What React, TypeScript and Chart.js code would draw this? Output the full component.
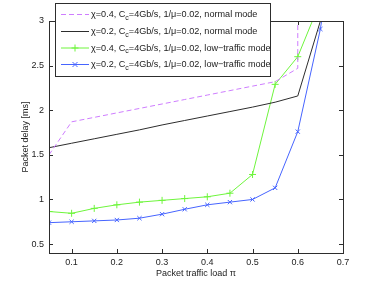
import React, { useEffect, useRef } from "react";
import { Chart, registerables } from "chart.js";

Chart.register(...registerables);

const loads = [0.05, 0.1, 0.15, 0.2, 0.25, 0.3, 0.35, 0.4, 0.45, 0.5, 0.55, 0.6, 0.65];
const pinkLoads = [0.05, 0.1, 0.15, 0.2, 0.25, 0.3, 0.35, 0.4, 0.45, 0.5, 0.55, 0.6, 0.6];
const pinkDelay = [1.5, 1.87, 1.92, 1.97, 2.02, 2.07, 2.12, 2.17, 2.22, 2.27, 2.32, 2.47, 40];
const blackDelay = [1.58, 1.63, 1.68, 1.73, 1.78, 1.835, 1.885, 1.935, 1.985, 2.035, 2.09, 2.16, 3.0];
const greenDelay = [0.865, 0.845, 0.9, 0.94, 0.97, 0.99, 1.01, 1.03, 1.07, 1.28, 2.29, 2.6, 3.22];
const blueLoads = [0.05, 0.1, 0.15, 0.2, 0.25, 0.3, 0.35, 0.4, 0.45, 0.5, 0.55, 0.6, 0.65, 0.7];
const blueDelay = [0.74, 0.75, 0.76, 0.77, 0.79, 0.835, 0.89, 0.94, 0.97, 1.0, 1.13, 1.76, 2.91, 4.6];

const xTicks = [0.1, 0.2, 0.3, 0.4, 0.5, 0.6, 0.7];
const yTicks = [0.5, 1, 1.5, 2, 2.5, 3];

const legendLabels = [
  { pre: "χ=0.4, C", sub: "c", post: "=4Gb/s, 1/μ=0.02, normal mode" },
  { pre: "χ=0.2, C", sub: "c", post: "=4Gb/s, 1/μ=0.02, normal mode" },
  { pre: "χ=0.4, C", sub: "c", post: "=4Gb/s, 1/μ=0.02, low−traffic mode" },
  { pre: "χ=0.2, C", sub: "c", post: "=4Gb/s, 1/μ=0.02, low−traffic mode" },
];

const PINK = "rgb(206,125,255)";
const BLACK = "rgb(45,45,45)";
const GREEN = "rgb(110,245,60)";
const BLUE = "rgb(70,100,255)";
const FONT = "'Liberation Sans', Arial, sans-serif";

const zip = (xs: number[], ys: number[]) => ys.map((y, i) => ({ x: xs[i], y }));

export default function App() {
  const ref = useRef<HTMLCanvasElement>(null);
  useEffect(() => {
    if (!ref.current) return;
    const frame = {
      id: "frame",
      afterDraw(chart: any) {
        const { ctx, chartArea: a, scales } = chart;
        ctx.save();
        ctx.strokeStyle = BLACK;
        ctx.lineWidth = 1;
        ctx.beginPath();
        for (const v of yTicks) {
          const y = Math.round(scales.y.getPixelForValue(v)) + 0.5;
          ctx.moveTo(a.left, y); ctx.lineTo(a.left + 4, y);
          ctx.moveTo(a.right, y); ctx.lineTo(a.right - 4, y);
        }
        for (const v of xTicks) {
          const x = Math.round(scales.x.getPixelForValue(v)) + 0.5;
          ctx.moveTo(x, a.bottom); ctx.lineTo(x, a.bottom - 4);
          ctx.moveTo(x, a.top); ctx.lineTo(x, a.top + 4);
        }
        ctx.stroke();
        ctx.strokeRect(Math.round(a.left) + 0.5, Math.round(a.top) + 0.5, Math.round(a.right - a.left), Math.round(a.bottom - a.top));

        // legend
        const lx = 55.5, ly = 3.5, lw = 215, lh = 73;
        ctx.fillStyle = "#fff";
        ctx.fillRect(lx, ly, lw, lh);
        ctx.strokeStyle = BLACK;
        ctx.strokeRect(lx, ly, lw, lh);
        const rows = [14, 31, 47.5, 64];
        chart.data.datasets.forEach((ds: any, i: number) => {
          const y = rows[i] + 0.5;
          ctx.save();
          ctx.strokeStyle = ds.borderColor;
          ctx.lineWidth = 1;
          ctx.setLineDash(ds.borderDash || []);
          ctx.beginPath();
          ctx.moveTo(61, y); ctx.lineTo(89, y);
          ctx.stroke();
          ctx.setLineDash([]);
          if (ds.pointStyle === "cross") {
            ctx.beginPath();
            ctx.moveTo(75 - 3.5, y); ctx.lineTo(75 + 3.5, y);
            ctx.moveTo(75, y - 3.5); ctx.lineTo(75, y + 3.5);
            ctx.stroke();
          } else if (ds.pointStyle === "crossRot") {
            ctx.beginPath();
            ctx.moveTo(72.5, y - 2.5); ctx.lineTo(77.5, y + 2.5);
            ctx.moveTo(72.5, y + 2.5); ctx.lineTo(77.5, y - 2.5);
            ctx.stroke();
          }
          ctx.restore();
          const lab = legendLabels[i];
          ctx.fillStyle = "#222";
          ctx.textBaseline = "middle";
          ctx.font = `9.1px ${FONT}`;
          let x = 91;
          ctx.fillText(lab.pre, x, y);
          x += ctx.measureText(lab.pre).width;
          ctx.font = `7px ${FONT}`;
          ctx.fillText(lab.sub, x, y + 3.5);
          x += ctx.measureText(lab.sub).width;
          ctx.font = `9.1px ${FONT}`;
          ctx.fillText(lab.post, x, y);
        });
        ctx.restore();
      },
    };
    const chart = new Chart(ref.current, {
      type: "line",
      data: {
        datasets: [
          { data: zip(pinkLoads, pinkDelay), borderColor: PINK, borderWidth: 1, borderDash: [5, 3], pointRadius: 0, fill: false } as any,
          { data: zip(loads, blackDelay), borderColor: BLACK, borderWidth: 1, pointRadius: 0, fill: false },
          { data: zip(loads, greenDelay), borderColor: GREEN, borderWidth: 1, pointStyle: "cross", pointRadius: 3.5, pointBorderColor: GREEN, pointBorderWidth: 1, fill: false },
          { data: zip(blueLoads, blueDelay), borderColor: BLUE, borderWidth: 1, pointStyle: "crossRot", pointRadius: 3, pointBorderColor: BLUE, pointBorderWidth: 1, fill: false },
        ],
      },
      options: {
        animation: false,
        responsive: false,
        events: [],
        layout: { padding: { top: 21, right: 36, left: 0, bottom: 0 } },
        plugins: { legend: { display: false }, tooltip: { enabled: false } },
        scales: {
          x: {
            type: "linear",
            min: 0.05,
            max: 0.7,
            grid: { display: false, drawTicks: false },
            border: { display: false },
            afterBuildTicks: (s: any) => { s.ticks = xTicks.map((v) => ({ value: v })); },
            afterFit: (s: any) => { s.height = 32; },
            ticks: { font: { family: FONT, size: 9 }, color: "#222", padding: 4, maxRotation: 0, autoSkip: false, callback: (v: any) => String(v) },
            title: { display: true, text: "Packet traffic load π", font: { family: FONT, size: 9 }, color: "#222", padding: { top: 0, bottom: 6 } },
          },
          y: {
            type: "linear",
            min: 0.4,
            max: 3,
            grid: { display: false, drawTicks: false },
            border: { display: false },
            afterBuildTicks: (s: any) => { s.ticks = yTicks.map((v) => ({ value: v })); },
            afterFit: (s: any) => { s.width = 49; },
            ticks: { font: { family: FONT, size: 9 }, color: "#222", padding: 5, autoSkip: false, callback: (v: any) => String(v) },
            title: { display: true, text: "Packet delay [ms]", font: { family: FONT, size: 9 }, color: "#222", padding: { top: 20, bottom: 0 } },
          },
        },
      },
      plugins: [frame],
    });
    return () => chart.destroy();
  }, []);
  return (
    <div style={{ position: "absolute", left: 0, top: 0, width: 379, height: 285, background: "#fff" }}>
      <canvas ref={ref} width={379} height={285} style={{ width: 379, height: 285, display: "block" }} />
    </div>
  );
}
